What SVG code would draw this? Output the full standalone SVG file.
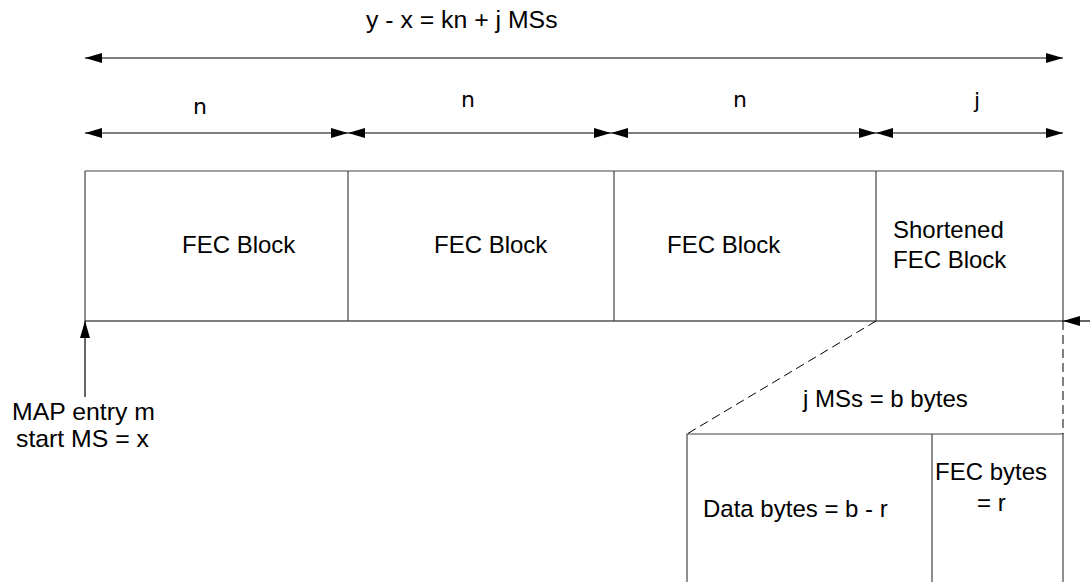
<svg xmlns="http://www.w3.org/2000/svg" width="1090" height="582" viewBox="0 0 1090 582">
<style>
.t{font-family:"Liberation Sans",Arial,sans-serif;font-size:24px;fill:#000}
.tl{font-size:24.8px}
.d{font-family:"DejaVu Sans",Verdana,sans-serif;font-size:22px;fill:#000}
.ln{stroke:#000;stroke-width:1.2;fill:none}
.bx{stroke:#444;stroke-width:1.2;fill:none}
.dash{stroke:#000;stroke-width:1;fill:none;stroke-dasharray:9 5}
.arr{stroke:#000;stroke-width:1.2;fill:none;marker-end:url(#ah)}
.dim{stroke:#000;stroke-width:1.2;fill:none;marker-start:url(#ah);marker-end:url(#ah)}
</style>
<defs>
<marker id="ah" viewBox="0 0 17 10" refX="17" refY="5" markerWidth="17" markerHeight="10" markerUnits="userSpaceOnUse" orient="auto-start-reverse">
<path d="M0,0 L17,5 L0,10 z" fill="#000"/>
</marker>
</defs>
<rect width="1090" height="582" fill="#fff"/>

<g id="total-label"><text class="t tl" x="366" y="28">y - x = kn + j MSs</text></g>
<g id="n1-label"><text class="d" x="200" y="114" text-anchor="middle">n</text></g>
<g id="n2-label"><text class="d" x="468" y="107" text-anchor="middle">n</text></g>
<g id="n3-label"><text class="d" x="740" y="107" text-anchor="middle">n</text></g>
<g id="j-label"><text class="d" x="977" y="108" text-anchor="middle">j</text></g>

<g id="frame">
<path class="bx" d="M85,171 H1063 V321 M85,321 V171"/>
<path class="ln" d="M85,321 H1063"/>
</g>
<g id="block1"><path class="bx" d="M348,171 V321"/><text class="t" x="182" y="253">FEC Block</text></g>
<g id="block2"><path class="bx" d="M614,171 V321"/><text class="t" x="434" y="253">FEC Block</text></g>
<g id="block3"><path class="bx" d="M876,171 V321"/><text class="t" x="667" y="253">FEC Block</text></g>
<g id="block4"><text class="t" x="893" y="238">Shortened</text><text class="t" x="893" y="268">FEC Block</text></g>

<g id="map-label"><text class="t tl" x="12" y="420">MAP entry m</text><text class="t tl" x="16" y="447">start MS = x</text></g>

<g id="detail">
<path class="bx" d="M687,582 V434 H1063 V582 M932,434 V582"/>
<text class="t" x="803" y="407">j MSs = b bytes</text>
<text class="t" x="703" y="517">Data bytes = b - r</text>
<text class="t" x="935" y="480">FEC bytes</text>
<text class="t" x="977" y="511">= r</text>
</g>

<g id="connectors">
<path class="dim" d="M85,58 H1063"/>
<path class="dim" d="M85,133 H348"/>
<path class="dim" d="M348,133 H611"/>
<path class="dim" d="M611,133 H876"/>
<path class="dim" d="M876,133 H1063"/>
<path class="arr" d="M85,397 V321"/>
<path class="arr" d="M1090,321 H1063"/>
<path class="dash" d="M876,321 L687,434"/>
<path class="dash" d="M1063,321 V434"/>
</g>
</svg>
